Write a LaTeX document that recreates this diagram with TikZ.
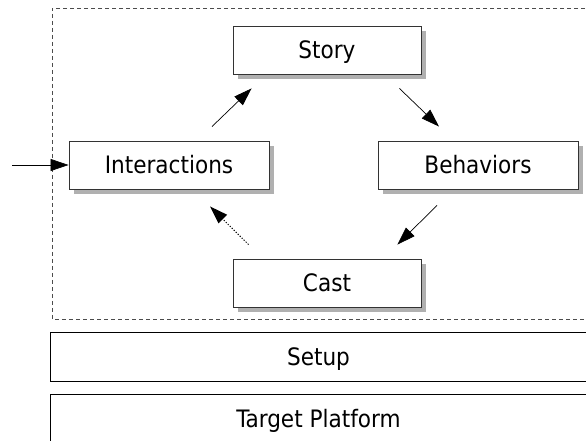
\documentclass[tikz,border=0pt]{standalone}
\usepackage{fontspec}
\setmainfont{DejaVu Sans Condensed}
\usetikzlibrary{arrows.meta, positioning, shadows}
\definecolor{shade}{HTML}{B0B0B0}

\begin{document}
\begin{tikzpicture}[x=1pt, y=1pt,
    every node/.style={font=\fontsize{24}{29}\selectfont, text height=18pt, text depth=0pt},
    box/.style={draw=black!80, line width=0.9pt, fill=white,
        minimum width=188pt, minimum height=48pt,
        drop shadow={shadow xshift=5pt, shadow yshift=-5pt, fill=shade, opacity=1}},
    widebox/.style={box, minimum width=200pt},
    layer/.style={minimum width=535pt, minimum height=48pt, inner sep=0pt},
    flow/.style={-{Triangle[length=18pt, width=12pt]}, line width=0.7pt},
]
\clip (0,0) rectangle (586,441);
% the cycle
\node[box] (story) at (327,391) {Story};
\node[widebox] (inter) at (169,276) {Interactions};
\node[widebox] (behav) at (478,276) {Behaviors};
\node[box] (cast) at (327,158) {Cast};

\draw[dash pattern=on 4pt off 3pt, draw=black!70, line width=0.8pt]
    (592,433) -- (52,433) -- (52,122) -- (592,122);

% layers below
\node[layer] (setup) at (318.5,84) {Setup};
\node[layer] (target) at (318.5,22) {Target Platform};
\draw[line width=0.9pt] (setup.north east) -- (setup.north west)
    -- (setup.south west) -- (setup.south east);
\draw[line width=0.9pt] (target.south west) -- (target.north west)
    -- (target.north east);

\coordinate (input) at (12,276);
\draw[flow] (input) -- (inter.west);
\draw[flow] ([shift={(43,14)}]inter.north) -- ([shift={(19,-14)}]story.south west);
\draw[flow] ([shift={(-22,-14)}]story.south east) -- ([shift={(-39,14)}]behav.north);
\draw[flow] ([shift={(-41,-16)}]behav.south) -- ([shift={(-24,14)}]cast.north east);
\draw[flow, line width=1pt, dash pattern=on 1.2pt off 1.6pt] ([shift={(16,14)}]cast.north west) -- ([shift={(41,-17)}]inter.south);
\end{tikzpicture}
\end{document}
